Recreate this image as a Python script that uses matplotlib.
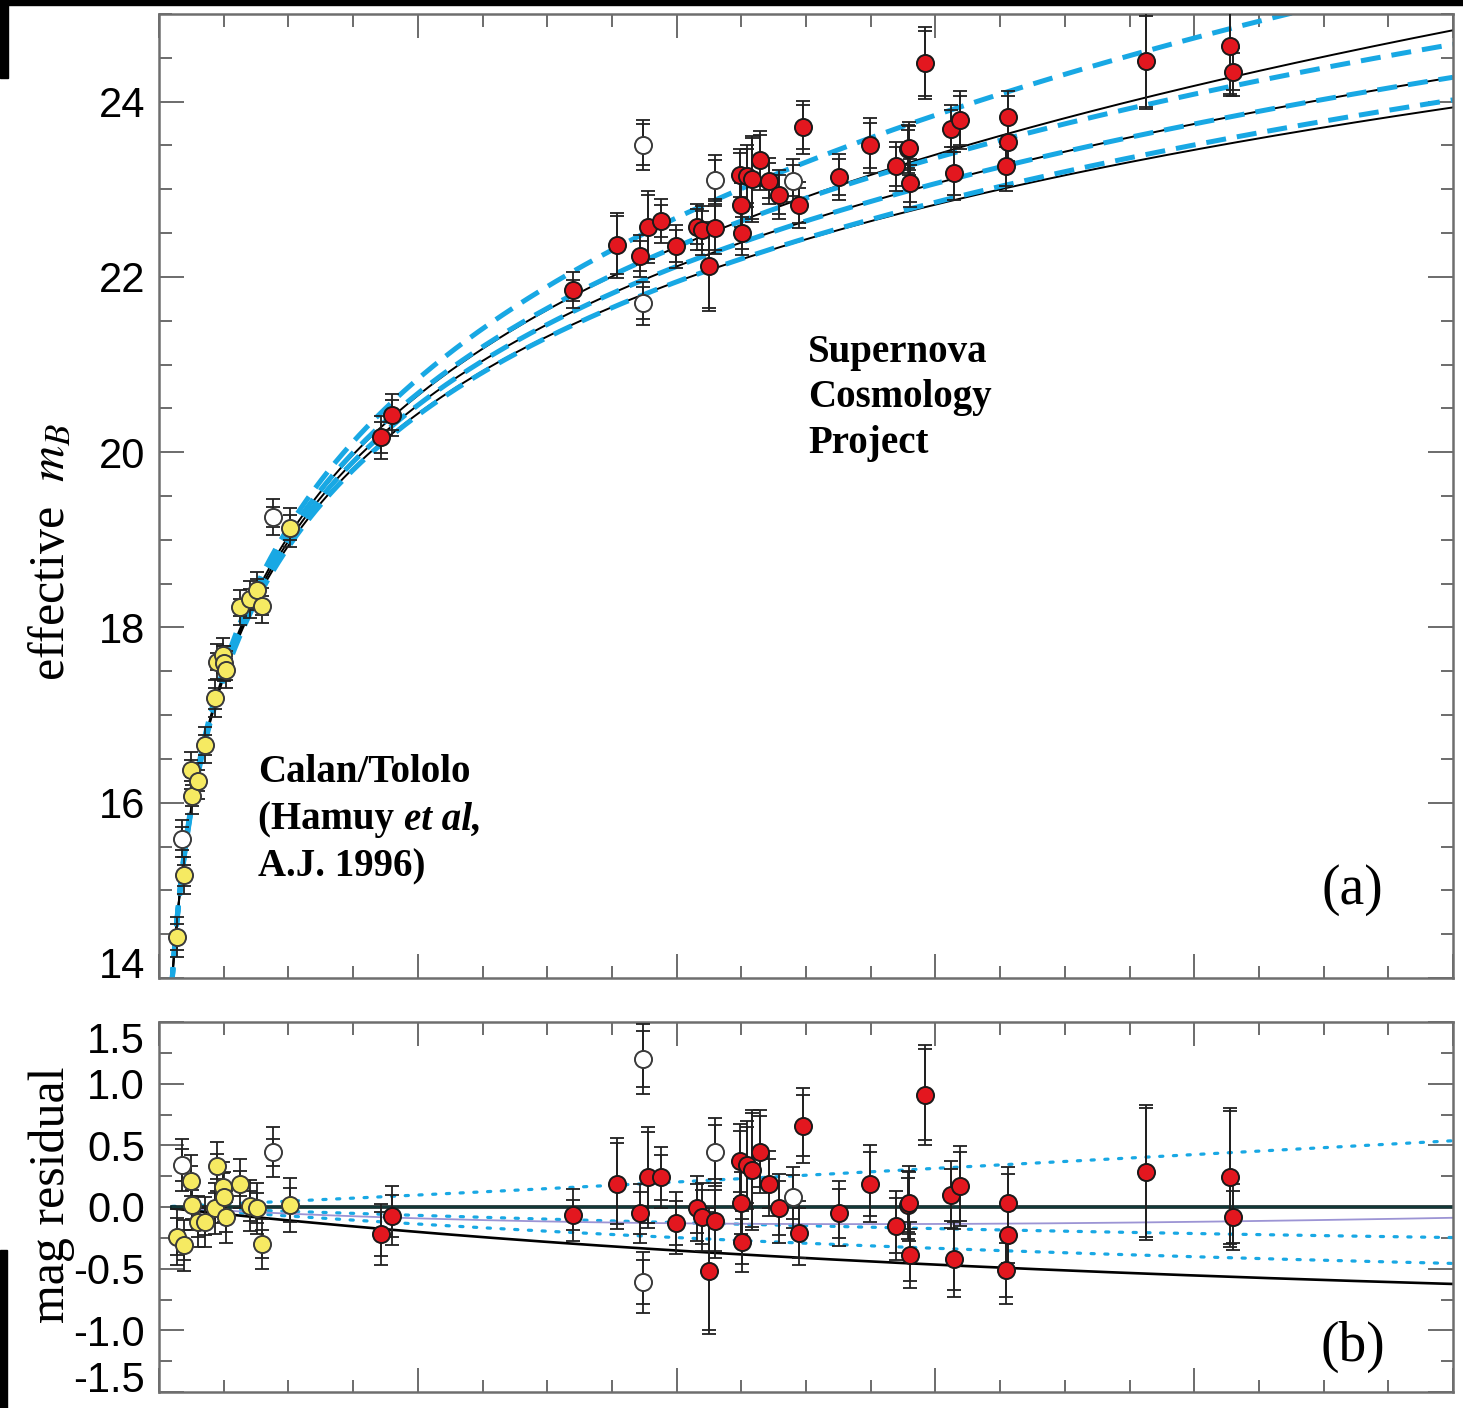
import numpy as np
import matplotlib
matplotlib.use("Agg")
import matplotlib.pyplot as plt
from matplotlib.patches import Rectangle
from matplotlib.ticker import MultipleLocator

# ---------------------------------------------------------------------------
# Data
# ---------------------------------------------------------------------------
# Calan/Tololo low-redshift sample (used in the fit)
ct_z = [0.0137, 0.0196, 0.0250, 0.0257, 0.0301, 0.0355, 0.0430, 0.0446,
        0.0497, 0.0500, 0.0521, 0.0623, 0.0703, 0.0755, 0.0794, 0.1012]
ct_m = [14.47, 15.17, 16.37, 16.08, 16.25, 16.66, 17.19, 17.61,
        17.68, 17.59, 17.52, 18.23, 18.32, 18.43, 18.25, 19.14]
ct_res = [-0.24, -0.31, 0.21, 0.02, -0.12, -0.12, -0.01, 0.33,
          0.165, 0.08, -0.08, 0.19, 0.01, -0.01, -0.30, 0.015]
ct_err = [0.15, 0.12, 0.12, 0.12, 0.12, 0.11, 0.12, 0.10,
          0.11, 0.11, 0.12, 0.10, 0.12, 0.12, 0.11, 0.14]

# Calan/Tololo outliers (excluded from the fit)
ctx_z = [0.0178, 0.0879]
ctx_m = [15.59, 19.26]
ctx_res = [0.34, 0.445]
ctx_err = [0.13, 0.11]

# Supernova Cosmology Project sample (used in the fit)
scp_z = [0.1718, 0.1801, 0.3197, 0.3537, 0.3717, 0.3777, 0.3879, 0.3995,
         0.4155, 0.4199, 0.4250, 0.4297, 0.4490, 0.4498, 0.4502, 0.4542,
         0.4580, 0.4645, 0.4716, 0.4794, 0.4946, 0.4979, 0.5257, 0.5495,
         0.5696, 0.5791, 0.5796, 0.5804, 0.5920, 0.6118, 0.6146, 0.6190,
         0.6563, 0.6560, 0.6546, 0.7628, 0.8277, 0.8298]
scp_m = [20.17, 20.42, 21.85, 22.36, 22.24, 22.57, 22.64, 22.35,
         22.57, 22.53, 22.12, 22.56, 23.16, 22.82, 22.50, 23.15,
         23.12, 23.33, 23.10, 22.94, 22.82, 23.71, 23.14, 23.50,
         23.26, 23.46, 23.47, 23.07, 24.44, 23.69, 23.18, 23.79,
         23.83, 23.54, 23.26, 24.46, 24.63, 24.34]
scp_res = [-0.22, -0.07, -0.065, 0.19, -0.05, 0.24, 0.24, -0.13,
           -0.01, -0.08, -0.52, -0.11, 0.37, 0.035, -0.28, 0.34,
           0.30, 0.45, 0.19, -0.01, -0.21, 0.66, -0.05, 0.19,
           -0.15, 0.015, 0.03, -0.39, 0.91, 0.10, -0.425, 0.17,
           0.035, -0.23, -0.51, 0.28, 0.24, -0.08]
scp_err = [0.18, 0.17, 0.12, 0.33, 0.17, 0.37, 0.18, 0.18,
           0.20, 0.22, 0.48, 0.25, 0.25, 0.25, 0.18, 0.31,
           0.46, 0.29, 0.20, 0.22, 0.20, 0.25, 0.20, 0.26,
           0.22, 0.22, 0.25, 0.21, 0.37, 0.21, 0.25, 0.28,
           0.23, 0.22, 0.22, 0.52, 0.54, 0.21]

# SCP supernovae excluded from the fit
scpx_z = [0.3738, 0.3740, 0.4297, 0.4897]
scpx_m = [23.51, 21.70, 23.11, 23.10]
scpx_res = [1.20, -0.61, 0.445, 0.08]
scpx_err = [0.23, 0.18, 0.22, 0.18]

# Cosmological models, (Omega_M, Omega_Lambda)
solid_models = [(0.0, 0.0), (1.0, 0.0), (2.0, 0.0)]
dashed_models = [(0.0, 1.0), (0.5, 0.5), (1.0, 0.0), (1.5, -0.5)]
fit_model = (0.28, 0.72)
resid_dotted_models = [(0.0, 1.0), (0.5, 0.5), (0.75, 0.25)]
resid_solid_model = (1.0, 0.0)
resid_thin_model = (0.0, 0.0)

M_SCRIPT = -3.45          # Hubble-constant-free absolute magnitude
SIGMA_INT = 0.17          # intrinsic dispersion added to the outer error bars
C_KMS = 299792.458

# ---------------------------------------------------------------------------
# Helpers
# ---------------------------------------------------------------------------
W, H = 1463, 1408


def fx(x):
    return x / W


def fy(y):
    return 1.0 - y / H


def lum_dist(z, om, ol):
    """Dimensionless luminosity distance H0 d_L / c."""
    z = np.asarray(z, dtype=float)
    zg = np.linspace(0.0, max(z.max(), 1e-3), 6000)
    ok = 1.0 - om - ol
    e = np.sqrt(om * (1 + zg) ** 3 + ok * (1 + zg) ** 2 + ol)
    inv = 1.0 / e
    chi_g = np.concatenate([[0.0], np.cumsum(0.5 * (inv[1:] + inv[:-1]) * np.diff(zg))])
    chi = np.interp(z, zg, chi_g)
    if ok > 1e-9:
        s = np.sinh(np.sqrt(ok) * chi) / np.sqrt(ok)
    elif ok < -1e-9:
        s = np.sin(np.sqrt(-ok) * chi) / np.sqrt(-ok)
    else:
        s = chi
    return (1 + z) * s


def m_eff(z, om, ol):
    return M_SCRIPT + 5.0 * np.log10(C_KMS * lum_dist(z, om, ol))


plt.rcParams["mathtext.fontset"] = "stix"
SANS = "Liberation Sans"
SERIF = "Liberation Serif"
CYAN = "#18a8e4"
YELLOW = "#f6ea62"
RED = "#e3171f"
SPINE = "#6e6e6e"

fig = plt.figure(figsize=(W / 100, H / 100), dpi=100)
fig.patch.set_facecolor("white")

ax1 = fig.add_axes([fx(159), fy(978), (1453 - 159) / W, (978 - 14) / H])
ax2 = fig.add_axes([fx(159), fy(1392), (1453 - 159) / W, (1392 - 1022) / H])

for ax in (ax1, ax2):
    ax.set_xlim(0, 1)
    ax.xaxis.set_major_locator(MultipleLocator(0.2))
    ax.xaxis.set_minor_locator(MultipleLocator(0.05))
    ax.tick_params(axis="x", which="both", labelbottom=False)
    ax.tick_params(which="both", direction="in", top=True, right=True,
                   color="#606060", width=1.3)
    ax.tick_params(which="major", length=17)
    ax.tick_params(which="minor", length=9)
    ax.tick_params(axis="y", which="major", length=18, labelsize=30, pad=10)
    for sp in ax.spines.values():
        sp.set_color(SPINE)
        sp.set_linewidth(1.8)

# ---------------------------------------------------------------------------
# Panel (a): Hubble diagram
# ---------------------------------------------------------------------------
ax1.set_ylim(14, 25)
ax1.set_yticks([14, 16, 18, 20, 22, 24], ["14", "16", "18", "20", "22", "24"])
ax1.yaxis.set_minor_locator(MultipleLocator(0.5))

zc = np.linspace(0.006, 1.0, 1500)
for om, ol in solid_models:
    ax1.plot(zc, m_eff(zc, om, ol), color="black", lw=1.4, zorder=2)
for om, ol in dashed_models:
    ax1.plot(zc, m_eff(zc, om, ol), color=CYAN, lw=3.6, dashes=(4, 2.2),
             dash_capstyle="butt", zorder=2.5)


def draw_points(ax, z, y, err, face, edge):
    z = np.asarray(z)
    y = np.asarray(y)
    inner = np.asarray(err)
    outer = np.sqrt(inner ** 2 + SIGMA_INT ** 2)
    for e in (outer, inner):
        ax.errorbar(z, y, yerr=e, fmt="none", ecolor="#202020", elinewidth=1.3,
                    capsize=4.8, capthick=1.3, zorder=3)
    ax.plot(z, y, "o", ms=12.3, mfc=face, mec=edge, mew=1.4, zorder=4, ls="none")


draw_points(ax1, ct_z, ct_m, ct_err, YELLOW, "#3a3a3a")
draw_points(ax1, ctx_z, ctx_m, ctx_err, "white", "#3a3a3a")
draw_points(ax1, scp_z, scp_m, scp_err, RED, "#1a1a1a")
draw_points(ax1, scpx_z, scpx_m, scpx_err, "white", "#3a3a3a")

# ---------------------------------------------------------------------------
# Panel (b): residuals from the best-fit flat cosmology
# ---------------------------------------------------------------------------
ax2.set_ylim(-1.5, 1.5)
res_ticks = [-1.5, -1.0, -0.5, 0.0, 0.5, 1.0, 1.5]
ax2.set_yticks(res_ticks, ["-1.5", "-1.0", "-0.5", "0.0", "0.5", "1.0", "1.5"])
ax2.yaxis.set_minor_locator(MultipleLocator(0.25))

zr = np.linspace(0.01, 1.0, 1500)
m_fit = m_eff(zr, *fit_model)
for om, ol in resid_dotted_models:
    ax2.plot(zr, m_eff(zr, om, ol) - m_fit, color=CYAN, lw=2.3,
             dashes=(1.0, 3.3), dash_capstyle="round", zorder=2)
ax2.plot(zr, m_eff(zr, *resid_thin_model) - m_fit, color="#9c94d4", lw=1.3, zorder=2)
ax2.plot(zr, m_eff(zr, *resid_solid_model) - m_fit, color="black", lw=1.9, zorder=2)
ax2.plot(zr, np.zeros_like(zr), color="#0b1d1d", lw=2.6, zorder=2.2)
ax2.plot(zr, np.zeros_like(zr), color="#2a8a8a", lw=0.6, zorder=2.3, alpha=0.6)

draw_points(ax2, ct_z, ct_res, ct_err, YELLOW, "#3a3a3a")
draw_points(ax2, ctx_z, ctx_res, ctx_err, "white", "#3a3a3a")
draw_points(ax2, scp_z, scp_res, scp_err, RED, "#1a1a1a")
draw_points(ax2, scpx_z, scpx_res, scpx_err, "white", "#3a3a3a")

# tick label fonts and edge alignment
for ax in (ax1, ax2):
    for lab in ax.get_yticklabels():
        lab.set_fontfamily(SANS)
ticks1 = ax1.yaxis.get_major_ticks()
ticks1[0].label1.set_va("baseline")
ticks2 = ax2.yaxis.get_major_ticks()
ticks2[0].label1.set_va("baseline")
ticks2[-1].label1.set_va("top")

# ---------------------------------------------------------------------------
# Labels and annotations
# ---------------------------------------------------------------------------
fig.text(fx(52), fy(552), "effective  $m_B$", rotation=90, ha="center",
         va="center", fontsize=36, family=SERIF)
fig.text(fx(52), fy(1195), "mag residual", rotation=90, ha="center",
         va="center", fontsize=36, family=SERIF)

fig.text(fx(808), fy(398), "Supernova\nCosmology\nProject", ha="left",
         va="center", fontsize=28, family=SERIF, weight="bold", linespacing=1.32)

fig.text(fx(258), fy(772), "Calan/Tololo", ha="left", va="center",
         fontsize=28, family=SERIF, weight="bold")
t_ham = fig.text(fx(258), fy(820), "(Hamuy ", ha="left", va="center",
                 fontsize=28, family=SERIF, weight="bold")
renderer = fig.canvas.get_renderer()
bb = t_ham.get_window_extent(renderer=renderer)
fig.text(bb.x1 / fig.bbox.width, fy(820), "et al,", ha="left", va="center",
         fontsize=28, family=SERIF, weight="bold", style="italic")
fig.text(fx(258), fy(867), "A.J. 1996)", ha="left", va="center",
         fontsize=28, family=SERIF, weight="bold")

fig.text(fx(1352), fy(890), "(a)", ha="center", va="center", fontsize=40,
         family=SERIF)
fig.text(fx(1353), fy(1347), "(b)", ha="center", va="center", fontsize=40,
         family=SERIF)

# dark border strips along the top and left edges
fig.patches.append(Rectangle((0, fy(5)), 1, 5 / H, transform=fig.transFigure,
                             color="black", zorder=10))
fig.patches.append(Rectangle((0, fy(78)), 8 / W, 78 / H, transform=fig.transFigure,
                             color="black", zorder=10))
fig.patches.append(Rectangle((0, 0), 7 / W, (H - 1250) / H, transform=fig.transFigure,
                             color="black", zorder=10))

fig.savefig("out.png", dpi=100)
